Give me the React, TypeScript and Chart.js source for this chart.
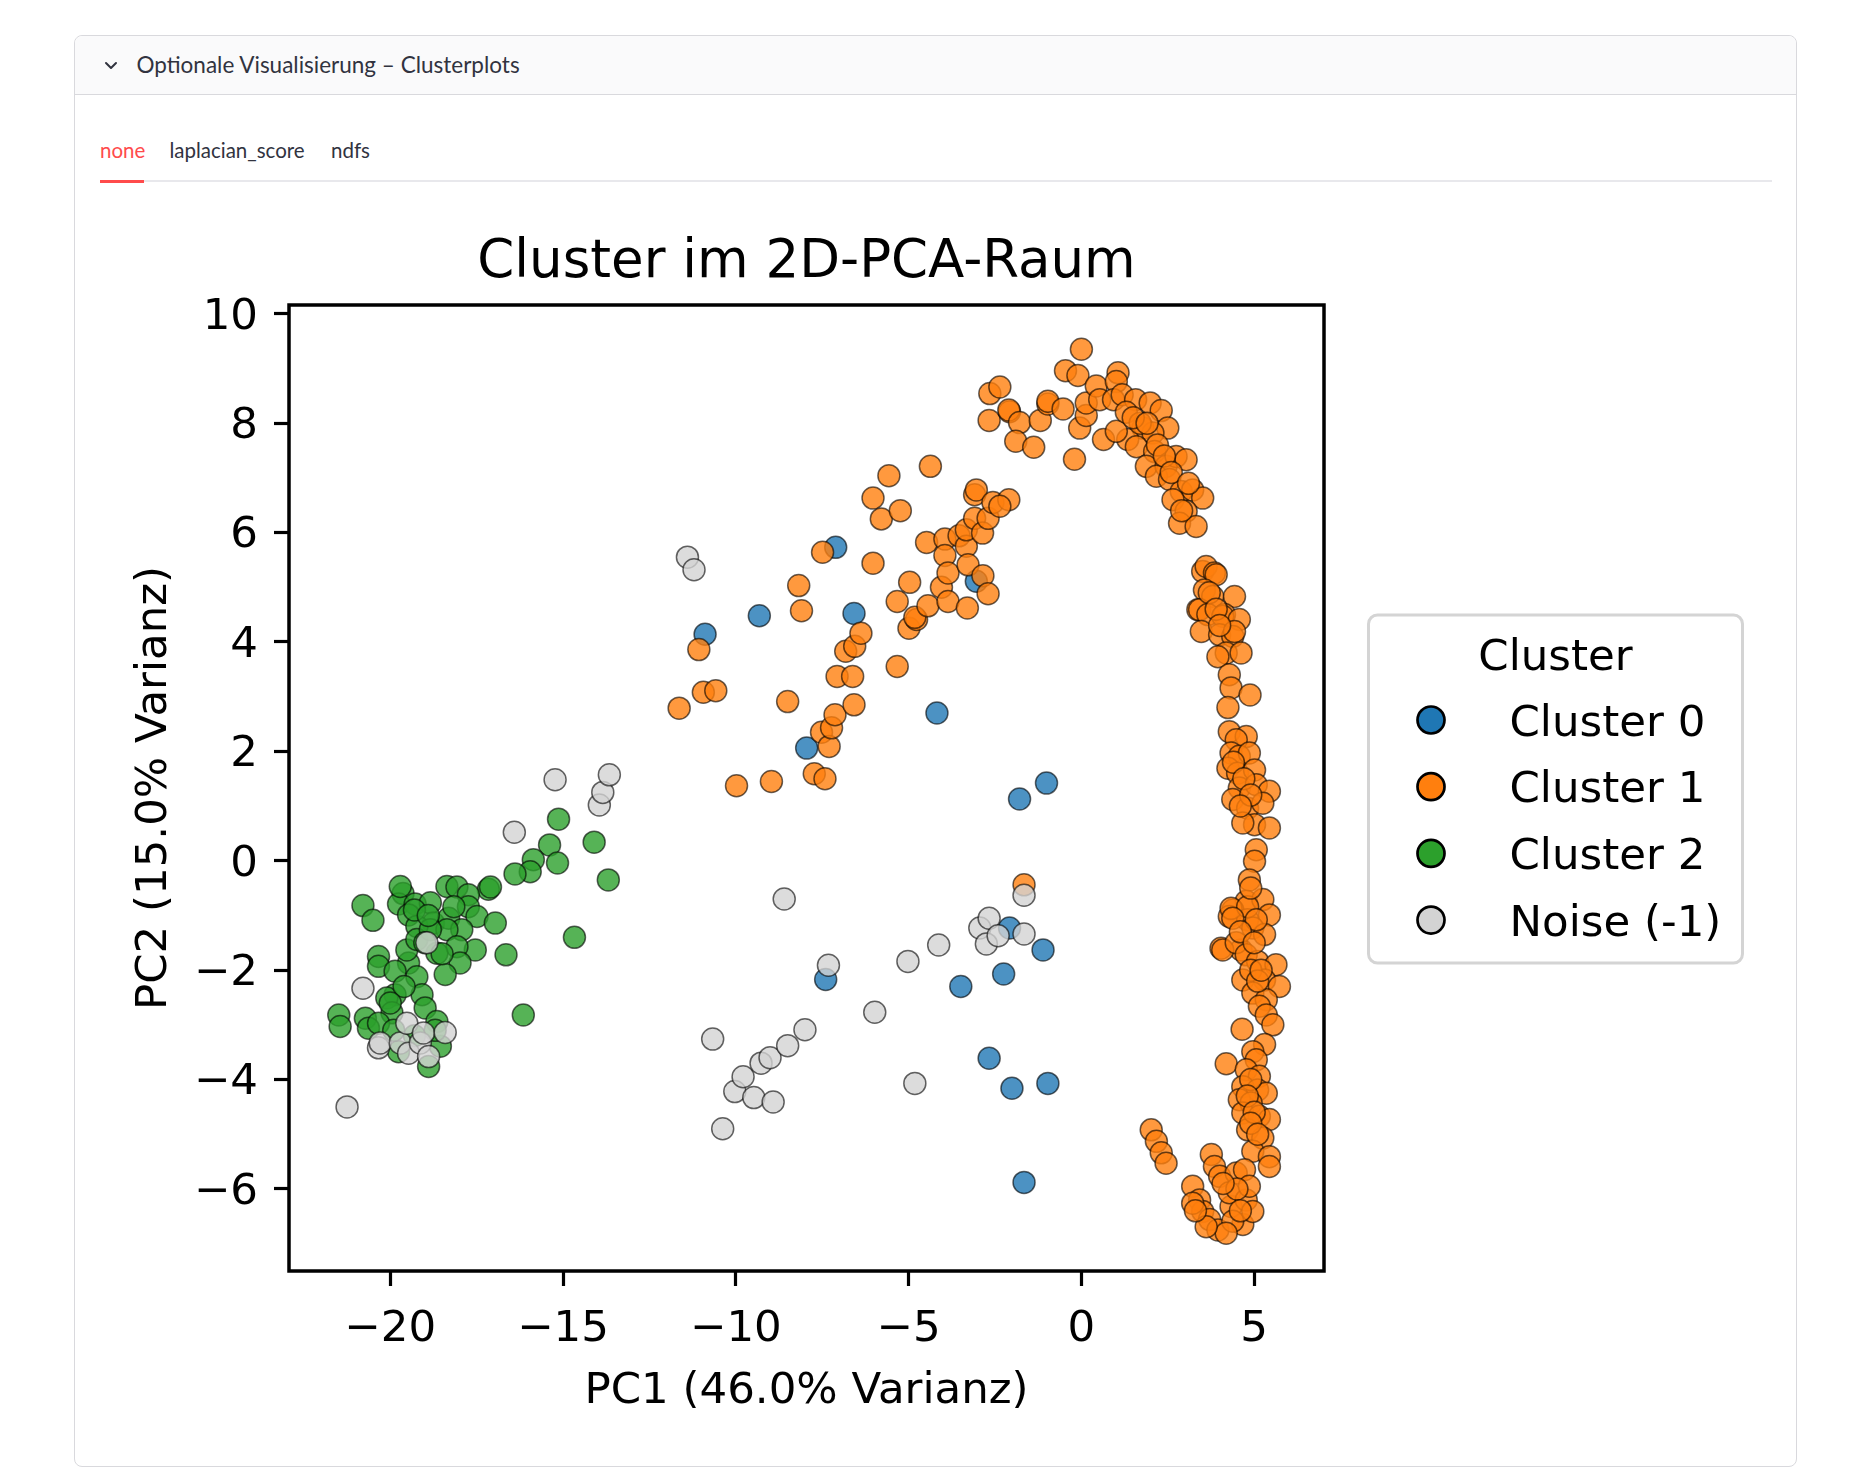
import React, { useEffect, useRef } from 'react';
import { Chart, registerables } from 'chart.js';

Chart.register(...registerables);

// ---------- data ----------
const chartTitle = 'Cluster im 2D-PCA-Raum';
const xAxisTitle = 'PC1 (46.0% Varianz)';
const yAxisTitle = 'PC2 (15.0% Varianz)';
const legendTitle = 'Cluster';
const xTicks = [-20, -15, -10, -5, 0, 5];
const yTicks = [-6, -4, -2, 0, 2, 4, 6, 8, 10];
const xRange = [-22.93, 7.02];
const yRange = [-7.5, 10.16];
const seriesLabels = ['Cluster 0', 'Cluster 1', 'Cluster 2', 'Noise (-1)'];
const seriesColors = ['#1f77b4', '#ff7f0e', '#2ca02c', '#d3d3d3'];

const cluster0: [number, number][] = [
  [-10.89, 4.14], [-9.32, 4.48], [-7.95, 2.06], [-7.40, -2.17], [-7.11, 5.73], [-6.58, 4.52],
  [-4.18, 2.70], [-3.49, -2.30], [-3.04, 5.11], [-2.67, -3.61], [-2.25, -2.07], [-2.08, -1.23],
  [-2.01, -4.16], [-1.79, 1.13], [-1.66, -5.88], [-1.11, -1.63], [-1.01, 1.42], [-0.97, -4.07],
];

const cluster1: [number, number][] = [
  // diagonal branch
  [-11.64, 2.79], [-11.07, 3.86], [-10.94, 3.08], [-10.58, 3.11], [-9.98, 1.37], [-8.97, 1.45],
  [-8.50, 2.91], [-8.18, 5.03], [-8.10, 4.57], [-7.73, 1.59], [-7.42, 1.50], [-7.49, 5.64],
  [-7.52, 2.35], [-7.30, 2.09], [-7.23, 2.43], [-7.13, 2.67], [-7.07, 3.37], [-6.82, 3.83],
  [-6.62, 3.37], [-6.58, 2.85], [-6.56, 3.92], [-6.38, 4.16], [-6.03, 5.44], [-6.03, 6.63],
  [-5.79, 6.25], [-5.57, 7.04], [-5.33, 3.55], [-5.33, 4.74], [-5.24, 6.40], [-4.99, 4.25],
  [-4.97, 5.09], [-4.77, 4.41], [-4.82, 4.45], [-4.44, 4.66], [-4.48, 5.82], [-4.37, 7.21],
  [-4.05, 5.00], [-3.95, 5.88], [-3.95, 5.58], [-3.86, 5.26], [-3.86, 4.74], [-3.54, 5.94],
  [-3.33, 5.75], [-3.33, 6.05], [-3.30, 4.62], [-3.28, 5.41], [-3.09, 6.26], [-3.09, 6.69],
  [-3.04, 6.78], [-2.86, 5.99], [-2.85, 5.21], [-2.70, 4.88], [-2.70, 6.26], [-2.56, 6.55],
  [-2.10, 6.60], [-2.36, 6.48], [-1.66, -0.44],
  // top arc
  [-2.65, 8.54], [-2.36, 8.66], [-2.67, 8.05], [-2.08, 8.21], [-2.10, 8.24], [-1.79, 8.01],
  [-1.90, 7.67], [-1.38, 7.56], [-1.19, 8.05], [-0.97, 8.35], [-0.97, 8.40], [-0.53, 8.26],
  [-0.46, 8.96], [-0.10, 8.87], [-0.05, 7.91], [-0.20, 7.34], [0.0, 9.35], [0.14, 8.14],
  [0.14, 8.37], [0.43, 8.68], [0.53, 8.43], [0.64, 7.70], [1.06, 8.92], [1.01, 8.76],
  [0.93, 8.43], [1.18, 8.52], [1.57, 8.43], [1.99, 8.37], [2.31, 8.23], [2.50, 7.91],
  [1.78, 7.91], [2.07, 7.82], [1.34, 7.70], [1.01, 7.85], [1.59, 7.57], [2.12, 7.48],
  [1.88, 7.21], [2.45, 7.21], [2.74, 7.39], [3.03, 7.33], [2.17, 7.03], [2.55, 6.97],
  [2.89, 6.75], [3.22, 6.78], [3.51, 6.63], [2.65, 6.60], [3.03, 6.39], [2.84, 6.17],
  [3.32, 6.11], [1.30, 8.20], [1.70, 8.00], [2.20, 7.60], [2.40, 7.40], [2.60, 7.10],
  [3.10, 6.90], [2.90, 6.40], [1.50, 8.10], [1.90, 8.00],
  // right branch
  [3.51, 5.29], [3.61, 5.38], [3.85, 5.26], [3.90, 5.23], [3.56, 4.95], [3.80, 4.83],
  [4.43, 4.83], [3.37, 4.59], [3.42, 4.59], [3.66, 4.50], [4.14, 4.50], [4.09, 4.47],
  [4.57, 4.41], [3.47, 4.19], [4.00, 4.13], [4.38, 4.10], [4.43, 4.19], [4.19, 3.80],
  [4.62, 3.80], [3.95, 3.73], [4.28, 3.40], [4.33, 3.16], [4.88, 3.03], [4.24, 2.80],
  [4.28, 2.36], [4.77, 2.27], [4.48, 2.21], [4.33, 1.97], [4.57, 1.91], [4.86, 1.97],
  [4.24, 1.69], [4.52, 1.60], [5.01, 1.66], [4.57, 1.33], [5.06, 1.39], [5.44, 1.27],
  [4.38, 1.12], [4.81, 0.96], [5.25, 1.05], [5.01, 0.66], [5.44, 0.60], [4.67, 0.69],
  [5.06, 0.20], [5.01, -0.01], [4.86, -0.35], [4.77, -0.74], [4.38, -0.90], [5.25, -0.71],
  [4.28, -1.02], [4.81, -1.08], [5.44, -0.99], [4.96, -1.23], [5.30, -1.35], [4.04, -1.60],
  [4.62, -1.63], [4.33, -0.87], [4.81, -0.84], [4.38, -1.05], [5.06, -1.08], [4.09, -1.63],
  [4.48, -1.50], [4.77, -1.72], [5.10, -1.84], [5.63, -1.90], [4.67, -2.18], [5.30, -2.18],
  [5.73, -2.30], [4.96, -2.42], [5.35, -2.54], [5.15, -2.66], [5.35, -2.82], [5.54, -3.00],
  [4.65, -3.08], [5.30, -3.36], [4.96, -3.49], [4.19, -3.71], [5.06, -3.64], [4.77, -3.82],
  [5.15, -3.94], [4.67, -4.13], [5.10, -4.19], [5.35, -4.25], [4.57, -4.37], [4.91, -4.43],
  [4.67, -4.61], [5.15, -4.67], [5.44, -4.73], [4.81, -4.92], [5.25, -5.07], [4.96, -5.31],
  [5.44, -5.41], [5.44, -5.59], [3.70, 4.90], [3.90, 4.60], [4.00, 4.30], [4.40, 1.80],
  [4.70, 1.50], [4.90, 1.20], [4.60, 1.00], [4.90, -0.50], [4.60, -1.30], [5.00, -1.50],
  [4.90, -2.00], [5.10, -2.20], [5.20, -2.00], [4.90, -4.00], [4.80, -4.30], [5.00, -4.60],
  [4.90, -4.80], [5.10, -5.00],
  // hook
  [2.02, -4.92], [2.17, -5.13], [2.31, -5.34], [2.45, -5.53], [3.76, -5.37], [3.85, -5.59],
  [4.00, -5.77], [4.48, -5.71], [4.72, -5.65], [3.22, -5.95], [3.42, -6.20], [3.51, -6.41],
  [3.71, -6.56], [3.95, -6.75], [3.22, -6.26], [4.33, -6.32], [4.28, -6.07], [4.77, -6.20],
  [4.86, -5.95], [4.67, -6.65], [4.38, -6.59], [4.96, -6.41], [4.19, -6.81], [3.61, -6.69],
  [4.50, -6.00], [4.60, -6.40], [3.30, -6.40], [4.10, -5.90],
];

const cluster2: [number, number][] = [
  [-15.13, 0.76], [-14.10, 0.34], [-15.39, 0.29], [-15.16, -0.04], [-13.69, -0.35], [-15.86, 0.02],
  [-15.95, -0.20], [-16.39, -0.24], [-17.16, -0.52], [-17.10, -0.48], [-18.36, -0.47], [-18.07, -0.48],
  [-17.74, -0.62], [-17.74, -0.84], [-17.49, -1.02], [-16.96, -1.14], [-20.79, -0.82], [-20.50, -1.09],
  [-19.63, -0.60], [-19.76, -0.79], [-19.28, -0.79], [-18.84, -0.77], [-19.47, -0.99], [-18.75, -1.14],
  [-18.31, -1.05], [-19.23, -1.20], [-17.93, -1.26], [-18.36, -1.26], [-17.54, -1.63], [-18.07, -1.57],
  [-17.98, -1.87], [-18.41, -2.08], [-19.47, -1.87], [-19.52, -1.63], [-18.65, -1.69], [-20.34, -1.75],
  [-20.34, -1.93], [-19.86, -2.02], [-19.23, -2.12], [-19.08, -2.45], [-19.86, -2.45], [-20.10, -2.51],
  [-19.95, -2.78], [-18.99, -2.69], [-21.49, -2.82], [-21.45, -3.03], [-20.72, -2.88], [-20.63, -3.06],
  [-20.34, -2.97], [-18.65, -2.94], [-18.55, -3.39], [-18.89, -3.76], [-19.76, -3.49], [-16.65, -1.72],
  [-16.15, -2.82], [-14.67, -1.40], [-19.23, -1.44], [-18.84, -1.26], [-18.16, -0.84], [-19.71, -0.47],
  [-19.30, -0.90], [-18.90, -1.00], [-19.00, -1.50], [-18.50, -1.70], [-19.60, -2.30], [-20.00, -2.60],
  [-19.30, -3.20], [-19.90, -3.10], [-18.70, -3.10],
];

const noise: [number, number][] = [
  [-21.25, -4.50], [-20.79, -2.33], [-20.34, -3.42], [-20.29, -3.33], [-19.71, -3.33], [-19.52, -2.97],
  [-19.47, -3.52], [-19.13, -3.33], [-19.04, -3.15], [-18.94, -1.50], [-18.89, -3.58], [-18.41, -3.14],
  [-16.41, 0.52], [-15.23, 1.48], [-13.95, 1.02], [-13.85, 1.25], [-13.66, 1.57], [-11.40, 5.55],
  [-11.21, 5.32], [-10.67, -3.26], [-10.38, -4.90], [-10.03, -4.22], [-9.79, -3.95], [-9.48, -4.33],
  [-9.27, -3.70], [-9.01, -3.60], [-8.92, -4.41], [-8.60, -0.70], [-8.50, -3.38], [-8.00, -3.09],
  [-7.32, -1.91], [-5.98, -2.77], [-5.02, -1.84], [-4.82, -4.07], [-4.13, -1.54], [-2.94, -1.23],
  [-2.75, -1.52], [-2.67, -1.05], [-2.41, -1.37], [-1.66, -1.34], [-1.66, -0.63],
];

const seriesPoints = [cluster0, cluster1, cluster2, noise];

// ---------- helpers ----------
const FONT = "'DejaVu Sans', sans-serif";
const fmt = (v: number) => (v < 0 ? '\u2212' + Math.abs(v) : String(v));
const withAlpha = (hex: string, a: number) => {
  const n = parseInt(hex.slice(1), 16);
  return `rgba(${(n >> 16) & 255},${(n >> 8) & 255},${n & 255},${a})`;
};

const framePlugin = {
  id: 'frame',
  afterDatasetsDraw(chart: any) {
    const { ctx, chartArea: a } = chart;
    ctx.save();
    ctx.strokeStyle = '#000';
    ctx.lineWidth = 3.5;
    ctx.strokeRect(a.left, a.top, a.right - a.left, a.bottom - a.top);
    ctx.restore();
  },
};

const boxLegendPlugin = {
  id: 'boxLegend',
  afterDraw(chart: any) {
    const ctx = chart.ctx;
    const left = 1268.5, top = 415, w = 374, h = 348, r = 9;
    ctx.save();
    ctx.beginPath();
    ctx.moveTo(left + r, top);
    ctx.arcTo(left + w, top, left + w, top + h, r);
    ctx.arcTo(left + w, top + h, left, top + h, r);
    ctx.arcTo(left, top + h, left, top, r);
    ctx.arcTo(left, top, left + w, top, r);
    ctx.closePath();
    ctx.fillStyle = 'rgba(255,255,255,0.8)';
    ctx.fill();
    ctx.strokeStyle = '#d4d4d4';
    ctx.lineWidth = 3;
    ctx.stroke();

    ctx.font = `43.5px ${FONT}`;
    ctx.fillStyle = '#000';
    ctx.textBaseline = 'alphabetic';
    ctx.textAlign = 'center';
    ctx.fillText(legendTitle, left + w / 2, 470);

    ctx.textAlign = 'left';
    chart.data.datasets.forEach((ds: any, i: number) => {
      const cy = 520 + i * 66.7;
      ctx.beginPath();
      ctx.arc(1331, cy, 13.5, 0, Math.PI * 2);
      ctx.fillStyle = seriesColors[i];
      ctx.fill();
      ctx.lineWidth = 2.7;
      ctx.strokeStyle = '#000';
      ctx.stroke();
      ctx.fillStyle = '#000';
      ctx.fillText(ds.label, 1409.5, cy + 15.5);
    });
    ctx.restore();
  },
};

const CANVAS_W = 1680;
const CANVAS_H = 1260;

export default function App() {
  const ref = useRef<HTMLCanvasElement>(null);

  useEffect(() => {
    if (!ref.current) return;
    const orders = [4, 3, 2, 1];
    const chart = new Chart(ref.current, {
      type: 'scatter',
      data: {
        datasets: seriesPoints.map((pts, i) => ({
          label: seriesLabels[i],
          data: pts.map(([x, y]) => ({ x, y })),
          backgroundColor: withAlpha(seriesColors[i], 0.8),
          borderColor: 'rgba(0,0,0,0.6)',
          borderWidth: 1.5,
          pointRadius: 11,
          pointHoverRadius: 11,
          order: orders[i],
        })),
      },
      options: {
        responsive: false,
        animation: false,
        events: [],
        layout: { padding: { left: 0, top: 0, bottom: 0, right: CANVAS_W - 1224 }, autoPadding: false },
        plugins: {
          legend: { display: false },
          tooltip: { enabled: false },
          title: {
            display: true,
            text: chartTitle,
            fullSize: false,
            color: '#000',
            font: { family: FONT, size: 53, weight: 'normal', lineHeight: 1.2 },
            padding: { top: 31.7, bottom: 9.7 },
          },
        },
        scales: {
          x: {
            type: 'linear',
            min: xRange[0],
            max: xRange[1],
            afterBuildTicks: (s: any) => { s.ticks = xTicks.map((v) => ({ value: v })); },
            afterFit: (s: any) => { s.height = CANVAS_H - 1071; },
            ticks: {
              callback: (v: any) => fmt(Number(v)),
              color: '#000',
              font: { family: FONT, size: 43.5 },
              padding: 18,
              autoSkip: false,
              maxRotation: 0,
              includeBounds: false,
            },
            grid: { display: true, drawOnChartArea: false, drawTicks: true, tickLength: 15, tickWidth: 3.2, tickColor: '#000' },
            border: { display: false },
            title: {
              display: true,
              text: xAxisTitle,
              color: '#000',
              font: { family: FONT, size: 43.5, lineHeight: 1.2 },
              padding: { top: 0, bottom: 42 },
            },
          },
          y: {
            type: 'linear',
            min: yRange[0],
            max: yRange[1],
            afterBuildTicks: (s: any) => { s.ticks = yTicks.map((v) => ({ value: v })); },
            afterFit: (s: any) => { s.width = 189; },
            ticks: {
              callback: (v: any) => fmt(Number(v)),
              color: '#000',
              font: { family: FONT, size: 43.5 },
              padding: 16,
              labelOffset: 3.5,
              autoSkip: false,
              includeBounds: false,
            },
            grid: { display: true, drawOnChartArea: false, drawTicks: true, tickLength: 15, tickWidth: 3.2, tickColor: '#000' },
            border: { display: false },
            title: {
              display: true,
              text: yAxisTitle,
              color: '#000',
              font: { family: FONT, size: 43.5, lineHeight: 1.2 },
              padding: { top: 28.5, bottom: 0 },
            },
          },
        },
      } as any,
      plugins: [framePlugin, boxLegendPlugin],
    });
    return () => chart.destroy();
  }, []);

  const textColor = '#31333f';
  return (
    <div style={{ fontFamily: 'Lato, sans-serif' }}>
      <div
        style={{
          position: 'absolute', left: 74, top: 35, width: 1721, height: 1430,
          border: '1px solid #d9d9dd', borderRadius: 8, background: '#fff',
        }}
      >
        <div
          style={{
            position: 'relative', height: 58, background: '#fafafb',
            borderBottom: '1px solid #d9d9dd', borderRadius: '8px 8px 0 0',
          }}
        >
          <svg width="14" height="10" style={{ position: 'absolute', left: 28.5, top: 25 }}>
            <polyline points="2,2 7,7 12,2" fill="none" stroke={textColor} strokeWidth="2" strokeLinecap="round" strokeLinejoin="round" />
          </svg>
          <div
            style={{
              position: 'absolute', left: 61.5, top: 0, lineHeight: '58px', fontSize: 22.5,
              color: textColor, whiteSpace: 'nowrap',
            }}
          >
            Optionale Visualisierung – Clusterplots
          </div>
        </div>
      </div>
      <div style={{ position: 'absolute', left: 100, top: 135.4, lineHeight: '30px', fontSize: 20.5, color: '#ff4b4b', whiteSpace: 'nowrap' }}>none</div>
      <div style={{ position: 'absolute', left: 169.4, top: 135.4, lineHeight: '30px', fontSize: 20.5, color: textColor, whiteSpace: 'nowrap' }}>laplacian_score</div>
      <div style={{ position: 'absolute', left: 331, top: 135.4, lineHeight: '30px', fontSize: 20.5, color: textColor, whiteSpace: 'nowrap' }}>ndfs</div>
      <div style={{ position: 'absolute', left: 100, top: 180, width: 1672, height: 2, background: '#e8e8ec' }} />
      <div style={{ position: 'absolute', left: 100, top: 180, width: 44, height: 3, background: '#ff4b4b' }} />
      <canvas
        ref={ref}
        width={CANVAS_W}
        height={CANVAS_H}
        style={{ position: 'absolute', left: 100, top: 200, width: CANVAS_W, height: CANVAS_H }}
      />
    </div>
  );
}
